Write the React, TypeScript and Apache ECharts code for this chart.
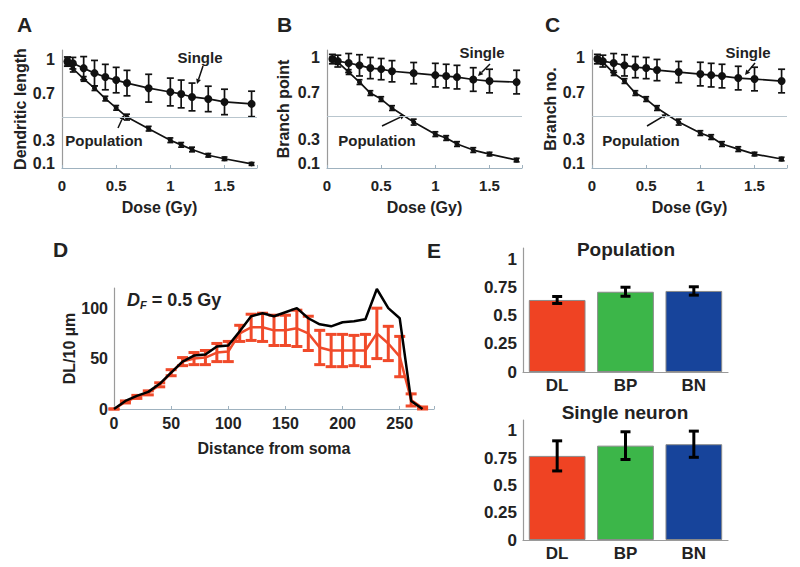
import React, { useEffect, useRef } from 'react';
import * as echarts from 'echarts';

// ---------- Data ----------
const doses = [0.05, 0.1, 0.2, 0.3, 0.4, 0.5, 0.6, 0.8, 1.0, 1.1, 1.2, 1.35, 1.5, 1.75];

const aSingle = [0.98, 0.966, 0.923, 0.88, 0.846, 0.82, 0.794, 0.75, 0.717, 0.7, 0.674, 0.657, 0.631, 0.614];
const aSingleErr = [0.04, 0.05, 0.1, 0.11, 0.11, 0.11, 0.11, 0.12, 0.12, 0.12, 0.12, 0.11, 0.11, 0.11];
const aPop = [0.98, 0.92, 0.83, 0.75, 0.66, 0.58, 0.5, 0.4, 0.3, 0.26, 0.22, 0.17, 0.14, 0.095];
const aPopErr = [0.03, 0.03, 0.02, 0.02, 0.02, 0.02, 0.025, 0.02, 0.02, 0.02, 0.02, 0.015, 0.015, 0.012];

const bSingle = [0.983, 0.966, 0.95, 0.93, 0.907, 0.898, 0.88, 0.864, 0.847, 0.839, 0.83, 0.81, 0.797, 0.788];
const bSingleErr = [0.04, 0.05, 0.08, 0.09, 0.09, 0.09, 0.09, 0.09, 0.1, 0.1, 0.1, 0.1, 0.1, 0.1];
const bPop = [0.983, 0.958, 0.873, 0.788, 0.695, 0.644, 0.568, 0.449, 0.347, 0.314, 0.263, 0.212, 0.178, 0.127];
const bPopErr = [0.02, 0.02, 0.02, 0.02, 0.02, 0.02, 0.02, 0.025, 0.02, 0.02, 0.02, 0.02, 0.015, 0.015];

const cSingle = [0.983, 0.966, 0.95, 0.93, 0.915, 0.907, 0.89, 0.873, 0.856, 0.847, 0.839, 0.822, 0.814, 0.797];
const cSingleErr = [0.04, 0.05, 0.08, 0.09, 0.09, 0.09, 0.09, 0.09, 0.1, 0.1, 0.1, 0.1, 0.1, 0.1];
const cPop = [0.983, 0.958, 0.864, 0.797, 0.695, 0.644, 0.568, 0.449, 0.356, 0.322, 0.263, 0.22, 0.178, 0.136];
const cPopErr = [0.02, 0.02, 0.02, 0.02, 0.02, 0.02, 0.02, 0.025, 0.02, 0.02, 0.02, 0.02, 0.015, 0.015];

const doseTickLabels = ['0', '0.5', '1', '1.5'];
const fracTickValues = [0.1, 0.3, 0.7, 1];
const fracTickLabels = ['0.1', '0.3', '0.7', '1'];

const distances = [0, 10, 20, 30, 40, 50, 60, 70, 80, 90, 100, 110, 120, 130, 140, 150, 160, 170, 180, 190, 200, 210, 220, 230, 240, 250, 260, 270];
const dlControl = [0, 8, 13, 17, 25, 36, 47, 53, 54, 62, 63, 77, 92, 95, 92, 96, 100, 90, 84, 82, 86, 87, 89, 119, 100, 90, 8, 0];
const dlIrradiated = [0, 7, 12, 16, 24, 36, 47, 50, 51, 56, 57, 75, 81, 81, 78, 78, 80, 75, 61, 58, 58, 58, 58, 75, 65, 52, 9, 1];
const dlIrradiatedErr = [0, 1, 1.5, 2, 2, 3, 4, 6, 7, 9, 10, 8, 13, 14, 15, 15, 18, 17, 17, 16, 16, 15, 16, 25, 17, 20, 6, 1];

const eCategories = ['DL', 'BP', 'BN'];
const eColors = ['#ef4323', '#3cb649', '#17449b'];
const ePop = [0.639, 0.712, 0.719];
const ePopErr = [0.031, 0.04, 0.037];
const eSingle = [0.771, 0.865, 0.878];
const eSingleErr = [0.138, 0.127, 0.12];
const eTickLabels = ['0', '0.25', '0.5', '0.75', '1'];

// ---------- Helpers ----------
const FF = '"Liberation Sans", Arial, Helvetica, sans-serif';
const TXT = '#222';
const AXIS_Y = '#9a9a9a';
const AXIS_X = '#9fb2bf';

const errRender = (cap: number, lw: number, color: string) => (params: any, api: any) => {
  const x = api.value(0);
  const lo = api.coord([x, api.value(1)]);
  const hi = api.coord([x, api.value(2)]);
  const h = cap / 2;
  const st = { stroke: color, lineWidth: lw };
  return {
    type: 'group',
    children: [
      { type: 'line', shape: { x1: lo[0], y1: lo[1], x2: hi[0], y2: hi[1] }, style: st },
      { type: 'line', shape: { x1: lo[0] - h, y1: lo[1], x2: lo[0] + h, y2: lo[1] }, style: st },
      { type: 'line', shape: { x1: hi[0] - h, y1: hi[1], x2: hi[0] + h, y2: hi[1] }, style: st },
    ],
  };
};

const errSeries = (xs: number[], ys: number[], es: number[], idx: number, cap: number, lw: number, color: string, z = 2) => ({
  type: 'custom',
  xAxisIndex: idx,
  yAxisIndex: idx,
  renderItem: errRender(cap, lw, color),
  encode: { x: 0, y: [1, 2] },
  data: xs.map((x, i) => [x, ys[i] - es[i], ys[i] + es[i]]),
  silent: true,
  z,
});

const near = (v: number, arr: number[]) => arr.findIndex((a) => Math.abs(a - v) < 1e-6);

const doseXAxis = (idx: number) => ({
  type: 'value',
  gridIndex: idx,
  min: 0,
  max: 1.8,
  interval: 0.5,
  axisLine: { show: true, lineStyle: { color: AXIS_X, width: 1.2 } },
  axisTick: { show: true, inside: true, length: 3, lineStyle: { color: AXIS_X } },
  splitLine: { show: false },
  axisLabel: {
    margin: 10,
    color: TXT,
    fontFamily: FF,
    fontWeight: 'bold',
    fontSize: 15,
    formatter: (v: number) => {
      const k = near(v, [0, 0.5, 1, 1.5]);
      return k >= 0 ? doseTickLabels[k] : '';
    },
  },
  name: 'Dose (Gy)',
  nameLocation: 'middle',
  nameGap: 31,
  nameTextStyle: { color: TXT, fontFamily: FF, fontWeight: 'bold', fontSize: 16 },
});

const fracYAxis = (idx: number, max: number, name: string, gap: number) => ({
  type: 'value',
  gridIndex: idx,
  min: 0.06,
  max,
  interval: 0.02,
  axisLine: { show: true, lineStyle: { color: AXIS_Y, width: 1.2 } },
  axisTick: { show: false },
  splitLine: { show: false },
  axisLabel: {
    margin: 7,
    color: TXT,
    fontFamily: FF,
    fontWeight: 'bold',
    fontSize: 16,
    formatter: (v: number) => {
      const k = near(Math.round(v * 100) / 100, fracTickValues);
      return k >= 0 ? fracTickLabels[k] : '';
    },
  },
  name,
  nameLocation: 'middle',
  nameGap: gap,
  nameTextStyle: { color: TXT, fontFamily: FF, fontWeight: 'bold', fontSize: 16 },
});

const doseSeries = (idx: number, single: number[], singleErr: number[], pop: number[], popErr: number[]) => [
  errSeries(doses, single, singleErr, idx, 7, 1.7, '#111', 2),
  errSeries(doses, pop, popErr, idx, 6, 1.7, '#111', 2),
  {
    type: 'line',
    name: 'Single',
    xAxisIndex: idx,
    yAxisIndex: idx,
    data: doses.map((d, i) => [d, single[i]]),
    symbol: 'circle',
    symbolSize: 8,
    lineStyle: { color: '#111', width: 1.7 },
    itemStyle: { color: '#111' },
    z: 3,
    markLine: {
      silent: true,
      symbol: 'none',
      label: { show: false },
      lineStyle: { color: '#b9c6ce', width: 1, type: 'solid' },
      data: [{ yAxis: 0.5 }],
    },
  },
  {
    type: 'line',
    name: 'Population',
    xAxisIndex: idx,
    yAxisIndex: idx,
    data: doses.map((d, i) => [d, pop[i]]),
    symbol: 'circle',
    symbolSize: 5,
    lineStyle: { color: '#111', width: 1.7 },
    itemStyle: { color: '#111' },
    z: 3,
  },
];

const barYAxis = (idx: number) => ({
  type: 'value',
  gridIndex: idx,
  min: 0,
  max: 1.1,
  interval: 0.25,
  axisLine: { show: true, lineStyle: { color: AXIS_Y, width: 1.2 } },
  axisTick: { show: false },
  splitLine: { show: false },
  axisLabel: {
    margin: 6,
    color: TXT,
    fontFamily: FF,
    fontWeight: 'bold',
    fontSize: 17,
    formatter: (v: number) => {
      const k = near(v, [0, 0.25, 0.5, 0.75, 1]);
      return k >= 0 ? eTickLabels[k] : '';
    },
  },
});

const barXAxis = (idx: number) => ({
  type: 'category',
  gridIndex: idx,
  data: eCategories,
  axisLine: { show: true, lineStyle: { color: AXIS_Y, width: 1.2 } },
  axisTick: { show: false },
  axisLabel: { margin: 5, color: TXT, fontFamily: FF, fontWeight: 'bold', fontSize: 17 },
});

const barSeries = (idx: number, vals: number[], errs: number[]) => [
  {
    type: 'bar',
    xAxisIndex: idx,
    yAxisIndex: idx,
    barWidth: '83%',
    data: vals.map((v, i) => ({ value: v, itemStyle: { color: eColors[i], borderColor: '#8a8a8a', borderWidth: 1 } })),
    z: 2,
  },
  {
    type: 'custom',
    xAxisIndex: idx,
    yAxisIndex: idx,
    renderItem: errRender(10, 3, '#000'),
    encode: { x: 0, y: [1, 2] },
    data: vals.map((v, i) => [i, v - errs[i], v + errs[i]]),
    silent: true,
    z: 4,
  },
];

const text = (x: number, y: number, t: string, size: number, align = 'center', extra: any = {}) => ({
  type: 'text',
  x,
  y,
  silent: true,
  style: {
    text: t,
    fill: TXT,
    font: `bold ${size}px ${FF}`,
    textAlign: align,
    align,
    textVerticalAlign: 'middle',
    verticalAlign: 'middle',
    ...extra,
  },
});

const arrow = (x1: number, y1: number, x2: number, y2: number) => {
  const ang = Math.atan2(y2 - y1, x2 - x1);
  const L = 5;
  const W = 2.5;
  const bx = x2 - L * Math.cos(ang);
  const by = y2 - L * Math.sin(ang);
  const px = -Math.sin(ang) * W;
  const py = Math.cos(ang) * W;
  return [
    { type: 'line', silent: true, shape: { x1, y1, x2: bx, y2: by }, style: { stroke: '#111', lineWidth: 1.5 } },
    {
      type: 'polygon',
      silent: true,
      shape: { points: [[x2, y2], [bx + px, by + py], [bx - px, by - py]] },
      style: { fill: '#111' },
    },
  ];
};

export default function App() {
  const ref = useRef<HTMLDivElement>(null);
  useEffect(() => {
    document.body.style.margin = '0';
    const chart = echarts.init(ref.current!, null, { renderer: 'svg' });
    const option: any = {
      animation: false,
      backgroundColor: '#fff',
      grid: [
        { left: 62, top: 50, width: 195, height: 118 },
        { left: 327, top: 50, width: 195, height: 118 },
        { left: 592, top: 50, width: 195, height: 118 },
        { left: 114, top: 288, width: 320, height: 121 },
        { left: 523, top: 248, width: 205, height: 124 },
        { left: 523, top: 420, width: 205, height: 120 },
      ],
      xAxis: [
        doseXAxis(0),
        doseXAxis(1),
        doseXAxis(2),
        {
          type: 'value',
          gridIndex: 3,
          min: 0,
          max: 280,
          interval: 50,
          axisLine: { show: true, lineStyle: { color: AXIS_X, width: 1.2 } },
          axisTick: { show: true, inside: true, length: 3, lineStyle: { color: AXIS_X } },
          splitLine: { show: false },
          axisLabel: {
            margin: 6,
            color: TXT,
            fontFamily: FF,
            fontWeight: 'bold',
            fontSize: 16,
            formatter: (v: number) => (v % 50 === 0 ? String(v) : ''),
          },
          name: 'Distance from soma',
          nameLocation: 'middle',
          nameGap: 31,
          nameTextStyle: { color: TXT, fontFamily: FF, fontWeight: 'bold', fontSize: 16 },
        },
        barXAxis(4),
        barXAxis(5),
      ],
      yAxis: [
        fracYAxis(0, 1.08, 'Dendritic length', 33),
        fracYAxis(1, 1.06, 'Branch point', 36),
        fracYAxis(2, 1.06, 'Branch no.', 31),
        {
          type: 'value',
          gridIndex: 3,
          min: 0,
          max: 120,
          interval: 50,
          axisLine: { show: true, lineStyle: { color: AXIS_Y, width: 1.2 } },
          axisTick: { show: false },
          splitLine: { show: false },
          axisLabel: {
            margin: 6,
            color: TXT,
            fontFamily: FF,
            fontWeight: 'bold',
            fontSize: 16,
            formatter: (v: number) => (v % 50 === 0 ? String(v) : ''),
          },
          name: 'DL/10 µm',
          nameLocation: 'middle',
          nameGap: 35,
          nameTextStyle: { color: TXT, fontFamily: FF, fontWeight: 'bold', fontSize: 16 },
        },
        barYAxis(4),
        barYAxis(5),
      ],
      series: [
        ...doseSeries(0, aSingle, aSingleErr, aPop, aPopErr),
        ...doseSeries(1, bSingle, bSingleErr, bPop, bPopErr),
        ...doseSeries(2, cSingle, cSingleErr, cPop, cPopErr),
        errSeries(distances, dlIrradiated, dlIrradiatedErr, 3, 11, 3, '#f04a2a', 2),
        {
          type: 'line',
          name: 'Irradiated',
          xAxisIndex: 3,
          yAxisIndex: 3,
          data: distances.map((d, i) => [d, dlIrradiated[i]]),
          symbol: 'none',
          lineStyle: { color: '#f04a2a', width: 2.5 },
          z: 2,
        },
        {
          type: 'line',
          name: 'Control',
          xAxisIndex: 3,
          yAxisIndex: 3,
          data: distances.map((d, i) => [d, dlControl[i]]),
          symbol: 'none',
          lineStyle: { color: '#000', width: 2.5 },
          z: 5,
        },
        ...barSeries(4, ePop, ePopErr),
        ...barSeries(5, eSingle, eSingleErr),
      ],
      graphic: [
        text(17, 24, 'A', 21, 'left'),
        text(277, 24, 'B', 21, 'left'),
        text(545, 24, 'C', 21, 'left'),
        text(53, 249, 'D', 21, 'left'),
        text(427, 250, 'E', 21, 'left'),
        // annotations
        text(200, 57, 'Single', 15),
        text(104, 140, 'Population', 15),
        ...arrow(203, 66, 197, 84),
        ...arrow(118, 128, 124, 115),
        text(482, 52, 'Single', 15),
        text(377, 140, 'Population', 15),
        ...arrow(490, 64, 478, 76),
        ...arrow(382, 126, 405, 115),
        text(748, 52, 'Single', 15),
        text(641, 140, 'Population', 15),
        ...arrow(755, 63, 745, 75),
        ...arrow(647, 126, 667, 114),
        // D annotation
        {
          type: 'text',
          x: 127,
          y: 300,
          silent: true,
          style: {
            text: '{d|D}{f|F}{r| = 0.5 Gy}',
            textAlign: 'left',
            align: 'left',
            textVerticalAlign: 'middle',
            verticalAlign: 'middle',
            fill: TXT,
            rich: {
              d: { fontFamily: FF, fontWeight: 'bold', fontStyle: 'italic', fontSize: 18, fill: TXT, color: TXT },
              f: { fontFamily: FF, fontWeight: 'bold', fontStyle: 'italic', fontSize: 11, fill: TXT, color: TXT, padding: [9, 0, 0, 0] },
              r: { fontFamily: FF, fontWeight: 'bold', fontSize: 18, fill: TXT, color: TXT },
            },
          },
        },
        // E titles
        text(626, 249, 'Population', 19),
        text(625, 412, 'Single neuron', 19),
      ],
    };
    chart.setOption(option);
    return () => chart.dispose();
  }, []);
  return <div ref={ref} style={{ width: 800, height: 567 }} />;
}
